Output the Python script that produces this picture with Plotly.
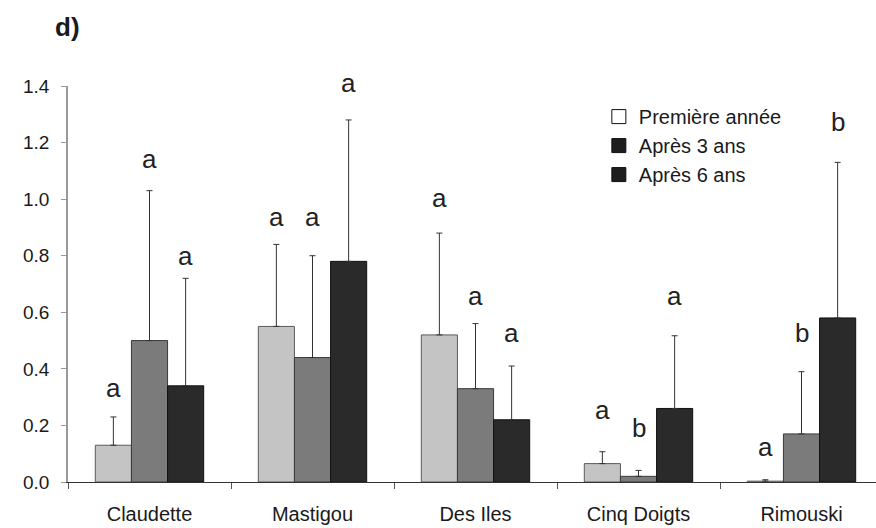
import plotly.graph_objects as go

# Sites and series
sites = ["Claudette", "Mastigou", "Des Iles", "Cinq Doigts", "Rimouski"]
series_names = ["Première année", "Après 3 ans", "Après 6 ans"]

# Means per site for each period
first_year = [0.13, 0.55, 0.52, 0.065, 0.003]
after_3 = [0.50, 0.44, 0.33, 0.02, 0.17]
after_6 = [0.34, 0.78, 0.22, 0.26, 0.58]

# Upper error (standard deviation) per site for each period
first_year_err = [0.10, 0.29, 0.36, 0.042, 0.005]
after_3_err = [0.53, 0.36, 0.23, 0.021, 0.22]
after_6_err = [0.38, 0.50, 0.19, 0.257, 0.55]

# Significance letters per site (first year, 3 years, 6 years)
letters = [
    ["a", "a", "a"],
    ["a", "a", "a"],
    ["a", "a", "a"],
    ["a", "b", "a"],
    ["a", "b", "b"],
]

# Heights (data units) at which each letter is centred
letter_heights = [
    [0.332, 1.142, 0.800],
    [0.937, 0.937, 1.410],
    [1.004, 0.657, 0.527],
    [0.255, 0.190, 0.657],
    [0.125, 0.527, 1.272],
]

means = [first_year, after_3, after_6]
errs = [first_year_err, after_3_err, after_6_err]
fills = ["#c4c4c4", "#7b7b7b", "#2a2a2a"]
edges = ["#5a5a5a", "#3a3a3a", "#111111"]
legend_fills = ["#ffffff", "#1e1e1e", "#1e1e1e"]

FONT = "Liberation Sans, Arial, sans-serif"
BARGAP = 0.335
Y_MAX = 1.4
PX_PER_UNIT = 396 / Y_MAX

fig = go.Figure()
for k in range(3):
    fig.add_trace(go.Bar(
        x=sites,
        y=means[k],
        name=series_names[k],
        showlegend=False,
        marker=dict(color=fills[k], line=dict(color=edges[k], width=1)),
        error_y=dict(type="data", symmetric=False, array=errs[k],
                     arrayminus=[0] * len(sites),
                     color="#333333", thickness=1, width=3),
    ))

# Legend keys (square markers, no data of their own)
for k in range(3):
    fig.add_trace(go.Scatter(
        x=[None], y=[None], mode="markers", name=series_names[k], showlegend=True,
        marker=dict(symbol="square", size=14, color=legend_fills[k],
                    line=dict(color="#111111", width=1)),
    ))

# Significance letters above each bar; letters above the axis top are
# anchored at the top and shifted up so they are not dropped.
bar_w = (1 - BARGAP) / 3
for i in range(len(sites)):
    for k in range(3):
        h = letter_heights[i][k]
        y_anchor = min(h, Y_MAX - 0.002)
        fig.add_annotation(
            x=i + (k - 1) * bar_w, y=y_anchor,
            yshift=(h - y_anchor) * PX_PER_UNIT,
            xref="x", yref="y", text=letters[i][k], showarrow=False,
            font=dict(family=FONT, size=26, color="#222222"),
            xanchor="center", yanchor="middle",
        )

n = len(sites)
fig.update_layout(
    width=876, height=528,
    margin=dict(l=68, r=0, t=86, b=46),
    paper_bgcolor="white", plot_bgcolor="white",
    barmode="group", bargap=BARGAP, bargroupgap=0,
    font=dict(family=FONT, color="#1a1a1a"),
    title=dict(text="<b>d)</b>", xref="container", yref="container",
               x=55 / 876, xanchor="left", y=1 - 18 / 528, yanchor="top",
               font=dict(family=FONT, size=26, color="#1a1a1a")),
    legend=dict(x=0.657, y=0.972, xanchor="left", yanchor="top",
                bgcolor="rgba(0,0,0,0)", font=dict(family=FONT, size=20, color="#1a1a1a"),
                itemwidth=30, tracegroupgap=0),
    xaxis=dict(
        type="category", range=[-0.5, n - 0.5 - 7 / 163],
        showline=True, linecolor="#333333", linewidth=1.2,
        ticks="outside", tickson="boundaries", ticklen=6, tickcolor="#555555",
        tickfont=dict(family=FONT, size=20, color="#1a1a1a"),
        ticklabelstandoff=14,
        showgrid=False, zeroline=False,
    ),
    yaxis=dict(
        range=[0, Y_MAX], dtick=0.2, tickformat=".1f",
        showline=True, linecolor="#999999", linewidth=1.5,
        ticks="outside", ticklen=5, tickcolor="#999999",
        tickfont=dict(family=FONT, size=19, color="#1a1a1a"),
        ticklabelstandoff=8,
        showgrid=False, zeroline=False,
    ),
)

fig.write_html("out.html")
